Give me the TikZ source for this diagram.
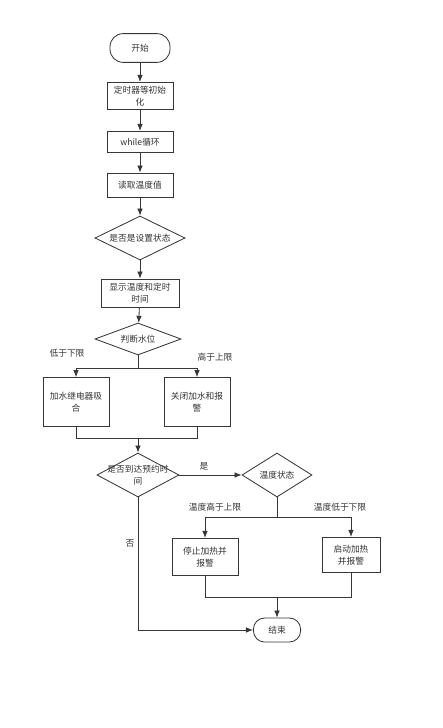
\documentclass[tikz,border=0pt]{standalone}
\usepackage{fontspec}
\setmainfont{Noto Sans CJK SC}
\usetikzlibrary{shapes.geometric, arrows.meta, positioning}
\definecolor{linegray}{RGB}{55,55,55}
\definecolor{textgray}{RGB}{50,50,50}

\tikzset{
  base/.style={draw=linegray, line width=0.6pt, text=textgray, align=center,
    font=\fontsize{6.2}{8.2}\selectfont, inner sep=1pt},
  term/.style={base, rounded corners=0.33cm, minimum width=1.5cm, minimum height=0.72cm},
  proc/.style={base, minimum width=1.65cm, minimum height=0.6cm},
  decide/.style={base, diamond, inner sep=0pt, minimum width=2.25cm, minimum height=1.1cm, shape aspect=2},
  lbl/.style={text=textgray, font=\fontsize{6.2}{8.2}\selectfont, inner sep=0pt},
  arr/.style={draw=linegray, line width=0.6pt, -{Latex[length=5pt,width=4pt]}},
  seg/.style={draw=linegray, line width=0.6pt}
}

\begin{document}
\begin{tikzpicture}[x=0.025cm, y=-0.025cm]
  \useasboundingbox (0,0) rectangle (442,728);

  % ===== 主干流程 =====
  \node[term] (start) at (140,48) {开始};
  \node[proc, minimum height=0.68cm] (init) at (140,96) {定时器等初始\\化};
  \node[proc, minimum height=0.53cm] (loop) at (140,142) {while循环};
  \node[proc] (read) at (140,185) {读取温度值};
  \node[decide] (setq) at (140,238) {是否是设置状态};
  \node[proc, minimum width=1.95cm, minimum height=0.7cm] (show) at (140,293) {显示温度和定时\\时间};
  \node[decide, minimum width=2.15cm, minimum height=0.8cm, shape aspect=2.7] (level) at (138,339) {判断水位};

  \draw[arr] (start) -- (init);
  \draw[arr] (init) -- (loop);
  \draw[arr] (loop) -- (read);
  \draw[arr] (read) -- (setq);
  \draw[arr] (setq) -- (show);
  \draw[arr] (show) -- (level);

  % ===== 水位分支 =====
  \node[proc, minimum height=1.22cm] (addw) at (76,402) {加水继电器吸\\合};
  \node[proc, minimum height=1.22cm] (stopw) at (197,402) {关闭加水和报\\警};
  \coordinate (split1) at (138,368);
  \coordinate (merge1) at (138,438);
  \draw[seg] (level.south) -- (split1);
  \draw[arr] (split1) -| (addw.north);
  \draw[arr] (split1) -| (stopw.north);
  \node[lbl] (lowlbl) at (67,353) {低于下限};
  \node[lbl] (highlbl) at (215,357) {高于上限};
  \draw[seg] (addw.south) |- (merge1);
  \draw[seg] (stopw.south) |- (merge1);

  % ===== 预约时间判断 =====
  \node[decide, minimum width=2.05cm, shape aspect=1.86, inner sep=-2.5pt] (timeq) at (138,475) {是否到达预约时\\间};
  \node[decide, minimum width=1.75cm, shape aspect=1.6] (tempq) at (277,475) {温度状态};
  \draw[arr] (merge1) -- (timeq.north);
  \draw[arr] (timeq.east) -- (tempq.west);
  \node[lbl] (yeslbl) at (204,466) {是};

  % ===== 温度分支 =====
  \node[proc, minimum height=0.93cm] (heatoff) at (205,557) {停止加热并\\报警};
  \node[proc, minimum width=1.45cm, minimum height=0.88cm] (heaton) at (351,555) {启动加热\\并报警};
  \coordinate (split2) at (277,517);
  \coordinate (merge2) at (277,597);
  \draw[seg] (tempq.south) -- (split2);
  \draw[arr] (split2) -| (heatoff.north);
  \draw[arr] (split2) -| (heaton.north);
  \node[lbl] (hotlbl) at (215,507) {温度高于上限};
  \node[lbl] (coldlbl) at (340,507) {温度低于下限};
  \draw[seg] (heatoff.south) |- (merge2);
  \draw[seg] (heaton.south) |- (merge2);

  % ===== 结束 =====
  \node[term, minimum width=1.18cm, minimum height=0.6cm, rounded corners=0.28cm] (stop) at (277,630) {结束};
  \draw[arr] (merge2) -- (stop.north);
  \draw[arr] (timeq.south) |- (stop.west);
  \node[lbl] (nolbl) at (130,543) {否};
\end{tikzpicture}
\end{document}
